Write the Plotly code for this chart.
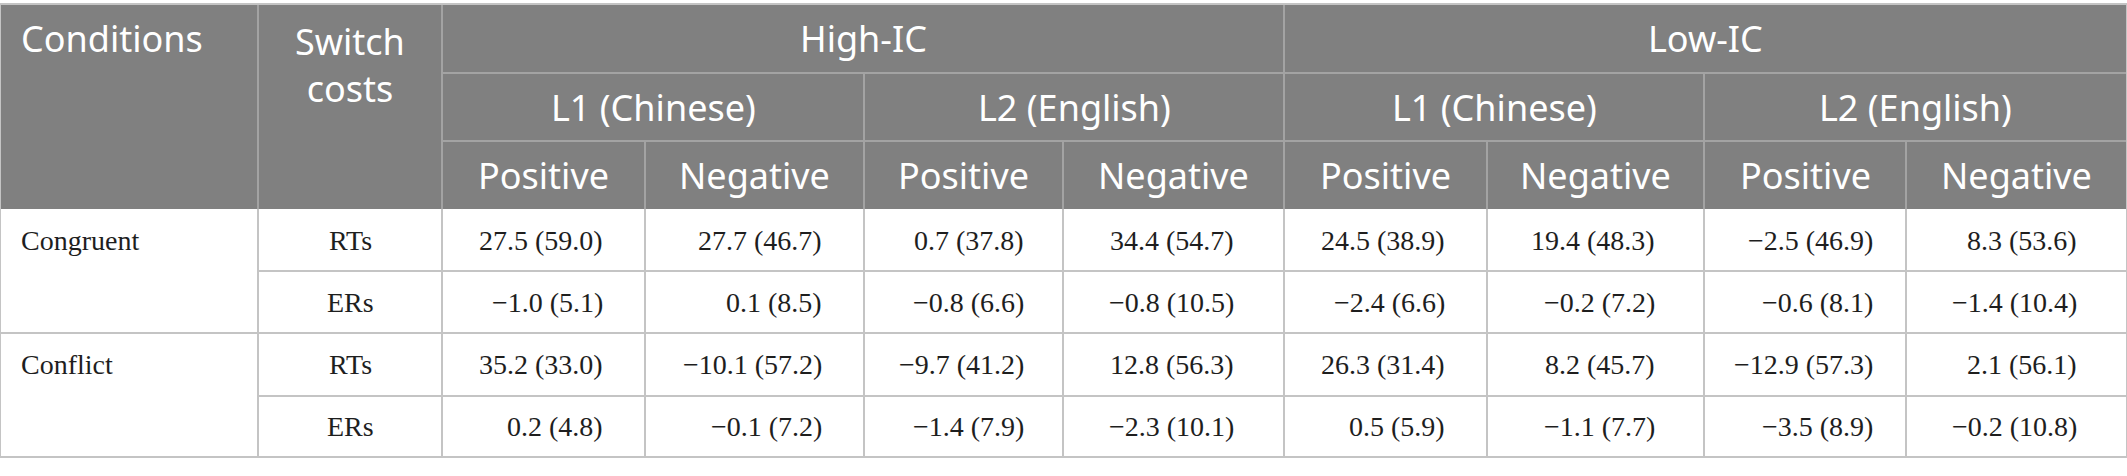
import plotly.graph_objects as go

# table content
conditions = ["Congruent", "Conflict"]
measures = ["RTs", "ERs"]
ic_groups = ["High-IC", "Low-IC"]
languages = ["L1 (Chinese)", "L2 (English)"]
valences = ["Positive", "Negative"]
head_left = ["Conditions", "Switch<br>costs"]

rt_congruent_m = [27.5, 27.7, 0.7, 34.4, 24.5, 19.4, -2.5, 8.3]
rt_congruent_sd = [59.0, 46.7, 37.8, 54.7, 38.9, 48.3, 46.9, 53.6]
er_congruent_m = [-1.0, 0.1, -0.8, -0.8, -2.4, -0.2, -0.6, -1.4]
er_congruent_sd = [5.1, 8.5, 6.6, 10.5, 6.6, 7.2, 8.1, 10.4]
rt_conflict_m = [35.2, -10.1, -9.7, 12.8, 26.3, 8.2, -12.9, 2.1]
rt_conflict_sd = [33.0, 57.2, 41.2, 56.3, 31.4, 45.7, 57.3, 56.1]
er_conflict_m = [0.2, -0.1, -1.4, -2.3, 0.5, -1.1, -3.5, -0.2]
er_conflict_sd = [4.8, 7.2, 7.9, 10.1, 5.9, 7.7, 8.9, 10.8]

body_rows = [(rt_congruent_m, rt_congruent_sd), (er_congruent_m, er_congruent_sd),
             (rt_conflict_m, rt_conflict_sd), (er_conflict_m, er_conflict_sd)]

# layout (pixels)
W, H = 2127, 476
col_w = [258, 184, 203, 219, 199, 221, 203, 217, 202, 221]
top = 4
head_h = [69, 68, 68]
body_h = [62, 62, 63, 61]

HEAD_BG = "#808080"
HEAD_LINE = "#a3a3a3"
BODY_LINE = "#c4c4c4"
SANS = "Noto Sans"
SERIF = "Liberation Serif"
HEAD_SIZE = 36
BODY_SIZE = 28

xs = [0]
for w in col_w:
    xs.append(xs[-1] + w)
ys = [top]
for h in head_h + body_h:
    ys.append(ys[-1] + h)
head_bottom = ys[3]


def fmt(m, sd):
    s = f"{m:.1f} ({sd:.1f})"
    return s.replace("-", "\u2212")


def est_width(s):
    # rough Times metrics, in em
    widths = {".": 0.25, " ": 0.25, "(": 0.333, ")": 0.333, "\u2212": 0.564}
    return sum(widths.get(c, 0.5) for c in s) * BODY_SIZE


fig = go.Figure()
shapes = []


def line(x0, y0, x1, y1, color, width=2):
    shapes.append(dict(type="line", xref="x", yref="y", x0=x0, y0=y0, x1=x1, y1=y1,
                       line=dict(color=color, width=width)))


def text(x, y, s, size, color, family, xanchor="center", yanchor="middle"):
    fig.add_annotation(x=x, y=y, xref="x", yref="y", text=s, showarrow=False,
                       xanchor=xanchor, yanchor=yanchor,
                       font=dict(size=size, color=color, family=family))


# header background
shapes.append(dict(type="rect", xref="x", yref="y", x0=0, x1=xs[-1], y0=ys[0], y1=head_bottom,
                   fillcolor=HEAD_BG, line=dict(width=0), layer="below"))

# header lines
line(xs[2], ys[1], xs[-1], ys[1], HEAD_LINE)
line(xs[2], ys[2], xs[-1], ys[2], HEAD_LINE)
for i in [1, 2, 6]:
    line(xs[i], ys[0], xs[i], head_bottom, HEAD_LINE)
for i in [4, 8]:
    line(xs[i], ys[1], xs[i], head_bottom, HEAD_LINE)
for i in [3, 5, 7, 9]:
    line(xs[i], ys[2], xs[i], head_bottom, HEAD_LINE)

# body lines
for i in range(1, len(xs) - 1):
    line(xs[i], head_bottom, xs[i], ys[-1], BODY_LINE)
line(xs[1], ys[4], xs[-1], ys[4], BODY_LINE)
line(xs[0], ys[5], xs[-1], ys[5], BODY_LINE)
line(xs[1], ys[6], xs[-1], ys[6], BODY_LINE)
line(xs[0], ys[-1], xs[-1], ys[-1], BODY_LINE)
line(xs[0], ys[0], xs[-1], ys[0], BODY_LINE)
line(xs[0], ys[0], xs[0], ys[-1], BODY_LINE)
line(xs[-1], ys[0], xs[-1], ys[-1], BODY_LINE)

# header text
row_c = [(ys[k] + ys[k + 1]) / 2 for k in range(len(ys) - 1)]
text(xs[0] + 19, row_c[0], head_left[0], HEAD_SIZE, "white", SANS, xanchor="left")
text((xs[1] + xs[2]) / 2, ys[0] + 11, head_left[1], HEAD_SIZE, "white", SANS, yanchor="top")
for g, name in enumerate(ic_groups):
    text((xs[2 + 4 * g] + xs[6 + 4 * g]) / 2, row_c[0], name, HEAD_SIZE, "white", SANS)
    for l, lang in enumerate(languages):
        a = 2 + 4 * g + 2 * l
        text((xs[a] + xs[a + 2]) / 2, row_c[1], lang, HEAD_SIZE, "white", SANS)
        for v, val in enumerate(valences):
            text((xs[a + v] + xs[a + v + 1]) / 2, row_c[2], val, HEAD_SIZE, "white", SANS)

# body text
for c, cond in enumerate(conditions):
    text(xs[0] + 19, row_c[3 + 2 * c], cond, BODY_SIZE, "#1e1e1e", SERIF, xanchor="left")
for r, (m, sd) in enumerate(body_rows):
    text((xs[1] + xs[2]) / 2, row_c[3 + r], measures[r % 2], BODY_SIZE, "#1e1e1e", SERIF)

cells = [[fmt(m[j], sd[j]) for j in range(len(m))] for m, sd in body_rows]
for j in range(len(col_w) - 2):
    col_strings = [row[j] for row in cells]
    max_w = max(est_width(s) for s in col_strings)
    right = (xs[j + 2] + xs[j + 3]) / 2 + max_w / 2
    for r, s in enumerate(col_strings):
        text(right, row_c[3 + r], s, BODY_SIZE, "#1e1e1e", SERIF, xanchor="right")

fig.update_layout(
    width=W, height=H,
    margin=dict(l=0, r=0, t=0, b=0),
    paper_bgcolor="white", plot_bgcolor="white",
    shapes=shapes,
    showlegend=False,
    xaxis=dict(range=[0, W], visible=False, fixedrange=True),
    yaxis=dict(range=[H, 0], visible=False, fixedrange=True),
)

# the page body has a default 8px margin; drop it so the table sits flush
fig.write_html("out.html", config={"displayModeBar": False},
               post_script="document.body.style.margin='0';")
